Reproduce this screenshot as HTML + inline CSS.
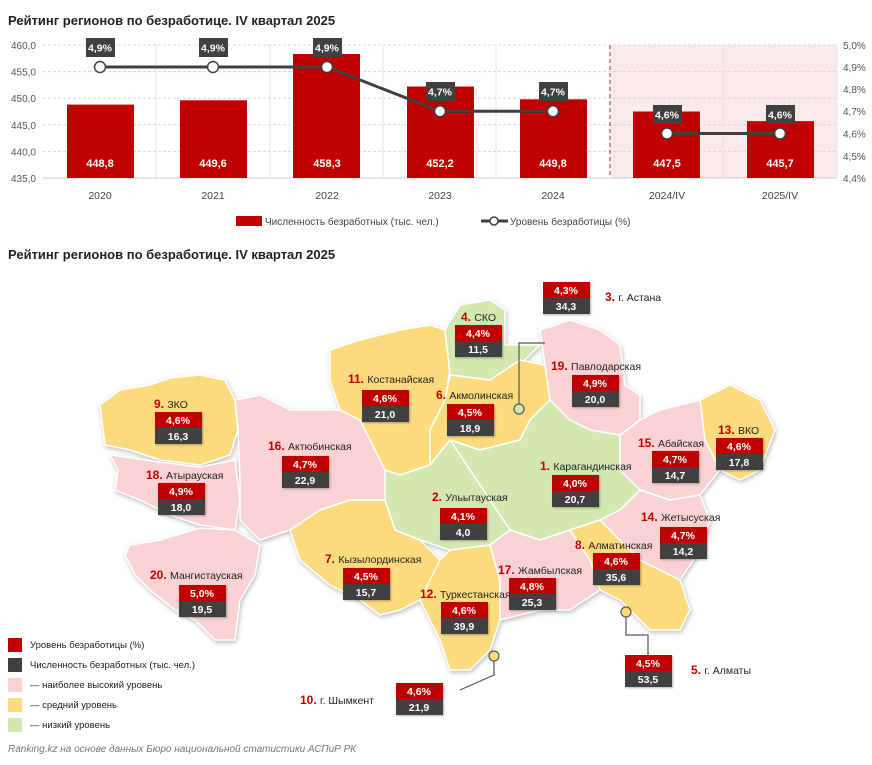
<!DOCTYPE html>
<html><head><meta charset="utf-8"><style>
body{margin:0;background:#fff;width:872px;height:765px;overflow:hidden;font-family:"Liberation Sans",sans-serif}
svg{display:block}
</style></head><body>
<svg width="872" height="765" xmlns="http://www.w3.org/2000/svg" font-family="Liberation Sans, sans-serif">
<text x="8" y="25" font-size="13" font-weight="bold" fill="#222">Рейтинг регионов по безработице. IV квартал 2025</text>
<rect x="610" y="45" width="227" height="133" fill="#fbeaea"/>
<g stroke="#d8d8d8" stroke-dasharray="3,2">
<line x1="43" y1="45" x2="837" y2="45"/><line x1="43" y1="71.6" x2="837" y2="71.6"/><line x1="43" y1="98.2" x2="837" y2="98.2"/><line x1="43" y1="124.8" x2="837" y2="124.8"/><line x1="43" y1="151.4" x2="837" y2="151.4"/></g>
<g stroke="#e4e4e4"><line x1="156" y1="45" x2="156" y2="178"/><line x1="270" y1="45" x2="270" y2="178"/><line x1="383" y1="45" x2="383" y2="178"/><line x1="496" y1="45" x2="496" y2="178"/><line x1="723" y1="45" x2="723" y2="178"/><line x1="837" y1="45" x2="837" y2="178"/></g>
<line x1="610" y1="45" x2="610" y2="178" stroke="#b03030" stroke-dasharray="4,3"/>
<line x1="43" y1="178" x2="837" y2="178" stroke="#ccc"/>
<g fill="#c00000">
<rect x="67" y="104.6" width="67" height="73.4"/><rect x="180" y="100.3" width="67" height="77.7"/><rect x="293" y="54" width="67" height="124"/><rect x="407" y="86.5" width="67" height="91.5"/><rect x="520" y="99.3" width="67" height="78.7"/><rect x="633" y="111.5" width="67" height="66.5"/><rect x="747" y="121.1" width="67" height="56.9"/></g>
<g fill="#fff" font-size="11" font-weight="bold" text-anchor="middle">
<text x="100" y="167">448,8</text><text x="213" y="167">449,6</text><text x="327" y="167">458,3</text><text x="440" y="167">452,2</text><text x="553" y="167">449,8</text><text x="667" y="167">447,5</text><text x="780" y="167">445,7</text></g>
<polyline points="100,67 213,67 327,67 440,111.3 553,111.3" fill="none" stroke="#404040" stroke-width="3"/>
<polyline points="667,133.5 780,133.5" fill="none" stroke="#404040" stroke-width="3"/>
<g fill="#fff" stroke="#404040" stroke-width="1.5"><circle cx="100" cy="67" r="5.5"/><circle cx="213" cy="67" r="5.5"/><circle cx="327" cy="67" r="5.5"/><circle cx="440" cy="111.3" r="5.5"/><circle cx="553" cy="111.3" r="5.5"/><circle cx="667" cy="133.5" r="5.5"/><circle cx="780" cy="133.5" r="5.5"/></g>
<g fill="#404040"><rect x="86" y="38" width="29" height="19"/><rect x="199" y="38" width="29" height="19"/><rect x="313" y="38" width="29" height="19"/><rect x="426" y="82" width="29" height="19"/><rect x="539" y="82" width="29" height="19"/><rect x="653" y="105" width="29" height="19"/><rect x="766" y="105" width="29" height="19"/></g>
<g fill="#fff" font-size="10.5" font-weight="bold" text-anchor="middle">
<text x="100" y="51.5">4,9%</text><text x="213" y="51.5">4,9%</text><text x="327" y="51.5">4,9%</text><text x="440" y="95.5">4,7%</text><text x="553" y="95.5">4,7%</text><text x="667" y="118.5">4,6%</text><text x="780" y="118.5">4,6%</text></g>
<g font-size="10" fill="#555" text-anchor="end">
<text x="36" y="49">460,0</text><text x="36" y="75.6">455,0</text><text x="36" y="102">450,0</text><text x="36" y="128.8">445,0</text><text x="36" y="155.4">440,0</text><text x="36" y="182">435,0</text></g>
<g font-size="10" fill="#555">
<text x="843" y="49">5,0%</text><text x="843" y="71">4,9%</text><text x="843" y="93">4,8%</text><text x="843" y="115">4,7%</text><text x="843" y="137.5">4,6%</text><text x="843" y="160">4,5%</text><text x="843" y="182">4,4%</text></g>
<g font-size="10.5" fill="#444" text-anchor="middle">
<text x="100" y="199">2020</text><text x="213" y="199">2021</text><text x="327" y="199">2022</text><text x="440" y="199">2023</text><text x="553" y="199">2024</text><text x="667" y="199">2024/IV</text><text x="780" y="199">2025/IV</text></g>
<rect x="236" y="216" width="26" height="10" fill="#c00000"/>
<text x="265" y="225" font-size="10" fill="#444">Численность безработных (тыс. чел.)</text>
<line x1="481" y1="221" x2="508" y2="221" stroke="#404040" stroke-width="3"/><circle cx="494" cy="221" r="4" fill="#fff" stroke="#404040" stroke-width="1.5"/>
<text x="510" y="225" font-size="10" fill="#444">Уровень безработицы (%)</text>
<text x="8" y="259" font-size="13" font-weight="bold" fill="#222">Рейтинг регионов по безработице. IV квартал 2025</text>
<g stroke="#fff" stroke-width="1.5" stroke-linejoin="round" style="filter:drop-shadow(1px 2px 2px rgba(0,0,0,0.25))">
<polygon fill="#fcdb7e" points="100,405 120,390 150,385 170,378 200,375 225,380 235,400 238,430 230,455 200,465 160,460 130,450 105,445"/>
<polygon fill="#f9d2d3" points="110,455 160,462 200,467 235,460 240,500 235,530 200,525 170,515 140,500 115,490 118,470"/>
<polygon fill="#f9d2d3" points="235,400 260,395 290,410 340,410 360,420 370,440 395,470 385,500 350,500 320,510 290,530 260,540 240,520 240,480 238,430"/>
<polygon fill="#f9d2d3" points="130,545 160,540 200,528 235,530 260,545 255,575 240,600 235,640 215,640 195,620 175,610 150,590 135,575 125,555"/>
<polygon fill="#fcdb7e" points="330,350 360,340 400,330 430,325 445,330 450,370 445,400 430,430 430,465 400,475 385,470 370,440 360,420 340,410 330,380"/>
<polygon fill="#d3e8b0" points="445,330 460,305 490,300 505,310 505,345 540,345 520,365 490,380 450,375"/>
<polygon fill="#fcdb7e" points="450,375 490,380 520,360 545,365 550,400 530,420 520,440 480,450 450,440 430,465 430,430 445,400"/>
<polygon fill="#f9d2d3" points="540,330 570,320 600,330 620,345 625,385 640,395 640,420 620,435 590,430 570,420 550,400 545,365"/>
<polygon fill="#fcdb7e" points="700,400 730,385 760,400 775,430 760,470 740,480 720,470 705,440"/>
<polygon fill="#f9d2d3" points="620,435 640,420 660,410 700,400 705,440 720,470 700,495 670,500 640,490 620,470"/>
<polygon fill="#d3e8b0" points="450,440 480,450 520,440 530,420 550,400 570,420 590,430 620,435 620,470 640,490 620,510 600,520 570,530 540,540 510,530"/>
<polygon fill="#d3e8b0" points="385,470 400,475 430,465 450,440 510,530 490,545 450,550 420,540 395,530 385,500"/>
<polygon fill="#fcdb7e" points="290,530 320,510 350,500 385,500 395,530 420,540 440,560 430,590 420,600 400,610 380,615 360,600 330,585 300,560"/>
<polygon fill="#fcdb7e" points="420,600 440,560 450,550 490,545 500,580 500,620 490,650 470,670 450,670 440,640 430,620"/>
<polygon fill="#f9d2d3" points="490,545 510,530 540,540 570,530 590,560 600,590 570,610 540,610 500,620 500,580"/>
<polygon fill="#fcdb7e" points="570,530 600,520 620,540 640,560 680,580 690,610 680,630 650,630 620,600 600,590 590,560"/>
<polygon fill="#f9d2d3" points="620,510 640,490 670,500 700,495 710,520 700,550 680,580 640,560 620,540 600,520"/>
</g>
<g stroke="#555" fill="none" stroke-width="1.2">
<polyline points="519,404 519,343 545,343"/><circle cx="519" cy="409" r="5" fill="#d3e8b0"/>
<polyline points="626,617 626,635 648,635 648,655"/><circle cx="626" cy="612" r="5" fill="#fcdb7e"/>
<polyline points="494,661 494,675 460,690"/><circle cx="494" cy="656" r="5" fill="#fcdb7e"/>
</g>
<g font-size="10.5" font-weight="bold" text-anchor="middle" fill="#fff">
<g style="filter:drop-shadow(1px 1px 1px rgba(0,0,0,0.3))">
<rect x="543" y="282" width="47" height="16" fill="#c00000"/><rect x="543" y="298" width="47" height="16" fill="#404040"/>
<rect x="455" y="325" width="47" height="16" fill="#c00000"/><rect x="455" y="341" width="47" height="16" fill="#404040"/>
<rect x="572" y="375" width="47" height="16" fill="#c00000"/><rect x="572" y="391" width="47" height="16" fill="#404040"/>
<rect x="362" y="390" width="47" height="16" fill="#c00000"/><rect x="362" y="406" width="47" height="16" fill="#404040"/>
<rect x="447" y="404" width="47" height="16" fill="#c00000"/><rect x="447" y="420" width="47" height="16" fill="#404040"/>
<rect x="155" y="412" width="47" height="16" fill="#c00000"/><rect x="155" y="428" width="47" height="16" fill="#404040"/>
<rect x="716" y="438" width="47" height="16" fill="#c00000"/><rect x="716" y="454" width="47" height="16" fill="#404040"/>
<rect x="652" y="451" width="47" height="16" fill="#c00000"/><rect x="652" y="467" width="47" height="16" fill="#404040"/>
<rect x="282" y="456" width="47" height="16" fill="#c00000"/><rect x="282" y="472" width="47" height="16" fill="#404040"/>
<rect x="552" y="475" width="47" height="16" fill="#c00000"/><rect x="552" y="491" width="47" height="16" fill="#404040"/>
<rect x="158" y="483" width="47" height="16" fill="#c00000"/><rect x="158" y="499" width="47" height="16" fill="#404040"/>
<rect x="440" y="508" width="47" height="16" fill="#c00000"/><rect x="440" y="524" width="47" height="16" fill="#404040"/>
<rect x="660" y="527" width="47" height="16" fill="#c00000"/><rect x="660" y="543" width="47" height="16" fill="#404040"/>
<rect x="593" y="553" width="47" height="16" fill="#c00000"/><rect x="593" y="569" width="47" height="16" fill="#404040"/>
<rect x="343" y="568" width="47" height="16" fill="#c00000"/><rect x="343" y="584" width="47" height="16" fill="#404040"/>
<rect x="509" y="578" width="47" height="16" fill="#c00000"/><rect x="509" y="594" width="47" height="16" fill="#404040"/>
<rect x="179" y="585" width="47" height="16" fill="#c00000"/><rect x="179" y="601" width="47" height="16" fill="#404040"/>
<rect x="441" y="602" width="47" height="16" fill="#c00000"/><rect x="441" y="618" width="47" height="16" fill="#404040"/>
<rect x="625" y="655" width="47" height="16" fill="#c00000"/><rect x="625" y="671" width="47" height="16" fill="#404040"/>
<rect x="396" y="683" width="47" height="16" fill="#c00000"/><rect x="396" y="699" width="47" height="16" fill="#404040"/>
</g>
<text x="566" y="294">4,3%</text><text x="566" y="310">34,3</text>
<text x="478" y="337">4,4%</text><text x="478" y="353">11,5</text>
<text x="595" y="387">4,9%</text><text x="595" y="403">20,0</text>
<text x="385" y="402">4,6%</text><text x="385" y="418">21,0</text>
<text x="470" y="416">4,5%</text><text x="470" y="432">18,9</text>
<text x="178" y="424">4,6%</text><text x="178" y="440">16,3</text>
<text x="739" y="450">4,6%</text><text x="739" y="466">17,8</text>
<text x="675" y="463">4,7%</text><text x="675" y="479">14,7</text>
<text x="305" y="468">4,7%</text><text x="305" y="484">22,9</text>
<text x="575" y="487">4,0%</text><text x="575" y="503">20,7</text>
<text x="181" y="495">4,9%</text><text x="181" y="511">18,0</text>
<text x="463" y="520">4,1%</text><text x="463" y="536">4,0</text>
<text x="683" y="539">4,7%</text><text x="683" y="555">14,2</text>
<text x="616" y="565">4,6%</text><text x="616" y="581">35,6</text>
<text x="366" y="580">4,5%</text><text x="366" y="596">15,7</text>
<text x="532" y="590">4,8%</text><text x="532" y="606">25,3</text>
<text x="202" y="597">5,0%</text><text x="202" y="613">19,5</text>
<text x="464" y="614">4,6%</text><text x="464" y="630">39,9</text>
<text x="648" y="667">4,5%</text><text x="648" y="683">53,5</text>
<text x="419" y="695">4,6%</text><text x="419" y="711">21,9</text>
</g>
<g font-size="10.5" fill="#222">
<text x="605" y="301"><tspan fill="#c00000" font-weight="bold" font-size="12">3. </tspan>г. Астана</text>
<text x="461" y="321"><tspan fill="#c00000" font-weight="bold" font-size="12">4. </tspan>СКО</text>
<text x="551" y="370"><tspan fill="#c00000" font-weight="bold" font-size="12">19. </tspan>Павлодарская</text>
<text x="348" y="383"><tspan fill="#c00000" font-weight="bold" font-size="12">11. </tspan>Костанайская</text>
<text x="436" y="399"><tspan fill="#c00000" font-weight="bold" font-size="12">6. </tspan>Акмолинская</text>
<text x="154" y="408"><tspan fill="#c00000" font-weight="bold" font-size="12">9. </tspan>ЗКО</text>
<text x="718" y="434"><tspan fill="#c00000" font-weight="bold" font-size="12">13. </tspan>ВКО</text>
<text x="638" y="447"><tspan fill="#c00000" font-weight="bold" font-size="12">15. </tspan>Абайская</text>
<text x="268" y="450"><tspan fill="#c00000" font-weight="bold" font-size="12">16. </tspan>Актюбинская</text>
<text x="540" y="470"><tspan fill="#c00000" font-weight="bold" font-size="12">1. </tspan>Карагандинская</text>
<text x="146" y="479"><tspan fill="#c00000" font-weight="bold" font-size="12">18. </tspan>Атырауская</text>
<text x="432" y="501"><tspan fill="#c00000" font-weight="bold" font-size="12">2. </tspan>Ульытауская</text>
<text x="641" y="521"><tspan fill="#c00000" font-weight="bold" font-size="12">14. </tspan>Жетысуская</text>
<text x="575" y="549"><tspan fill="#c00000" font-weight="bold" font-size="12">8. </tspan>Алматинская</text>
<text x="325" y="563"><tspan fill="#c00000" font-weight="bold" font-size="12">7. </tspan>Кызылординская</text>
<text x="498" y="574"><tspan fill="#c00000" font-weight="bold" font-size="12">17. </tspan>Жамбылская</text>
<text x="150" y="579"><tspan fill="#c00000" font-weight="bold" font-size="12">20. </tspan>Мангистауская</text>
<text x="420" y="598"><tspan fill="#c00000" font-weight="bold" font-size="12">12. </tspan>Туркестанская</text>
<text x="691" y="674"><tspan fill="#c00000" font-weight="bold" font-size="12">5. </tspan>г. Алматы</text>
<text x="300" y="704"><tspan fill="#c00000" font-weight="bold" font-size="12">10. </tspan>г. Шымкент</text>
</g>
<rect x="8" y="638" width="14" height="14" fill="#c00000"/>
<rect x="8" y="658" width="14" height="14" fill="#404040"/>
<rect x="8" y="678" width="14" height="14" fill="#f9d2d3"/>
<rect x="8" y="698" width="14" height="14" fill="#fcdb7e"/>
<rect x="8" y="718" width="14" height="14" fill="#d3e8b0"/>
<g font-size="9.5" fill="#222">
<text x="30" y="648">Уровень безработицы (%)</text>
<text x="30" y="668">Численность безработных (тыс. чел.)</text>
<text x="30" y="688">— наиболее высокий уровень</text>
<text x="30" y="708">— средний уровень</text>
<text x="30" y="728">— низкий уровень</text>
</g>
<text x="8" y="752" font-size="10" font-style="italic" fill="#777">Ranking.kz на основе данных Бюро национальной статистики АСПиР РК</text>
</svg>
</body></html>
